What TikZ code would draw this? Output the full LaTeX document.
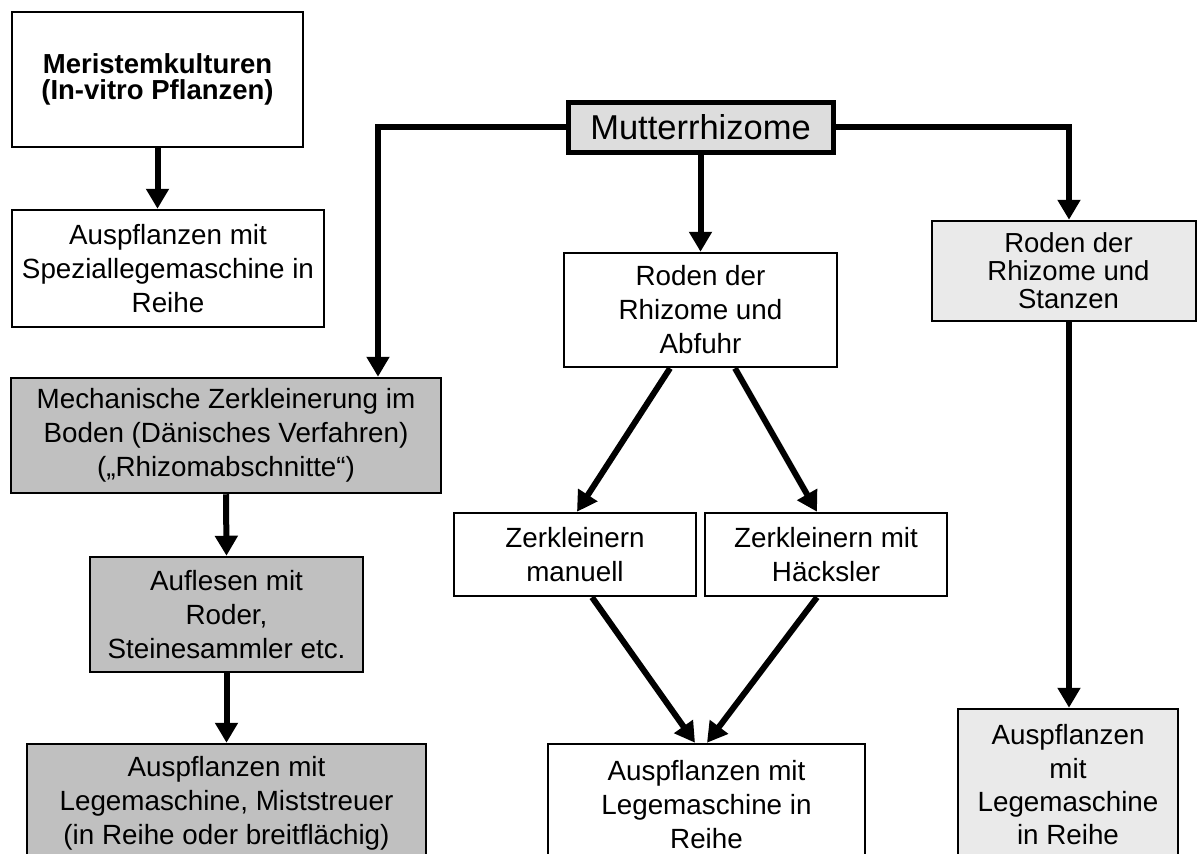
\documentclass[tikz,border=0pt]{standalone}
\usepackage{fontspec}
\setmainfont{Liberation Sans}
\usetikzlibrary{arrows.meta,calc}
\definecolor{darkfill}{HTML}{C0C0C0}
\definecolor{midfill}{HTML}{DDDDDD}
\definecolor{lightfill}{HTML}{EAEAEA}
\tikzset{
  box/.style={draw=black, line width=2.5pt, fill=white, rectangle, inner sep=0pt, align=center,
    font=\fontsize{27.8}{34}\selectfont},
  conn/.style={line width=6pt, line join=miter, -{Triangle[width=22pt,length=20pt]}},
}
\begin{document}
\begin{tikzpicture}[x=1pt,y=-1pt]
\clip (0,0) rectangle (1197,854);
\fill[white] (0,0) rectangle (1197,854);

\node[box, minimum width=291pt, minimum height=135pt, font=\bfseries\fontsize{27.5}{26}\selectfont]
  (mer) at (157.5,79.5) {\raisebox{-3pt}{Meristemkulturen}\\\raisebox{-3pt}{(In-vitro Pflanzen)}};
\node[box, minimum width=312pt, minimum height=117pt] (spez) at (168,268.5)
  {Auspflanzen mit\\Speziallegemaschine in\\Reihe};
\node[box, line width=5pt, fill=midfill, minimum width=265pt, minimum height=50pt,
  font=\fontsize{34.5}{40}\selectfont] (mr) at (700.5,127) {Mutterrhizome};
\node[box, minimum width=273pt, minimum height=114pt] (ra) at (700.5,310)
  {Roden der\\Rhizome und\\Abfuhr};
\node[box, minimum width=242pt, minimum height=83pt] (zm) at (575,554.5)
  {Zerkleinern\\manuell};
\node[box, minimum width=242pt, minimum height=83pt] (zh) at (826,554.5)
  {Zerkleinern mit\\Häcksler};
\node[box, minimum width=317pt, minimum height=122pt] (am) at (706.5,805)
  {Auspflanzen mit\\Legemaschine in\\Reihe};
\node[box, fill=darkfill, minimum width=430pt, minimum height=115pt] (mech) at (226,435.5)
  {Mechanische Zerkleinerung im\\Boden (Dänisches Verfahren)\\(„Rhizomabschnitte“)};
\node[box, fill=darkfill, minimum width=273pt, minimum height=115pt] (aufl) at (226.5,614.5)
  {Auflesen mit\\Roder,\\Steinesammler etc.};
\node[box, fill=darkfill, minimum width=399pt, minimum height=118pt] (al) at (226.5,803)
  {Auspflanzen mit\\Legemaschine, Miststreuer\\(in Reihe oder breitflächig)};
\node[box, fill=lightfill, minimum width=264pt, minimum height=100pt,
  font=\fontsize{27.5}{28}\selectfont] (rs) at (1064,271)
  {\hspace*{9pt}Roden der\\\hspace*{9pt}Rhizome und\\\hspace*{9pt}Stanzen};
\node[box, fill=lightfill, minimum width=220pt, minimum height=152pt,
  font=\fontsize{27.8}{33.3}\selectfont] (ar) at (1068,785)
  {Auspflanzen\\mit\\Legemaschine\\in Reihe};

\coordinate (lc) at (378,127);
\coordinate (rc) at (1069,127);

\draw[conn] (mer.south) -- (mer.south |- spez.north);
\draw[conn] (mr.south) -- (ra.north);
\draw[conn] (mr.west) -- (lc) -- (lc |- mech.north);
\draw[conn] (mr.east) -- (rc) -- (rc |- rs.north);
\draw[conn] (mech.south) -- (aufl.north);
\draw[conn] (aufl.south) -- (al.north);
\draw[conn] (rc |- rs.south) -- (rc |- ar.north);
\draw[conn] ($(ra.south)+(-30.5,0)$) -- ($(zm.north)+(2,0)$);
\draw[conn] ($(ra.south)+(34.5,0)$) -- ($(zh.north)+(-9,0)$);
\draw[conn] ($(zm.south)+(17,0)$) -- ($(am.north)+(-11.5,0)$);
\draw[conn] ($(zh.south)+(-9,0)$) -- ($(am.north)+(0.5,0)$);
\end{tikzpicture}
\end{document}
